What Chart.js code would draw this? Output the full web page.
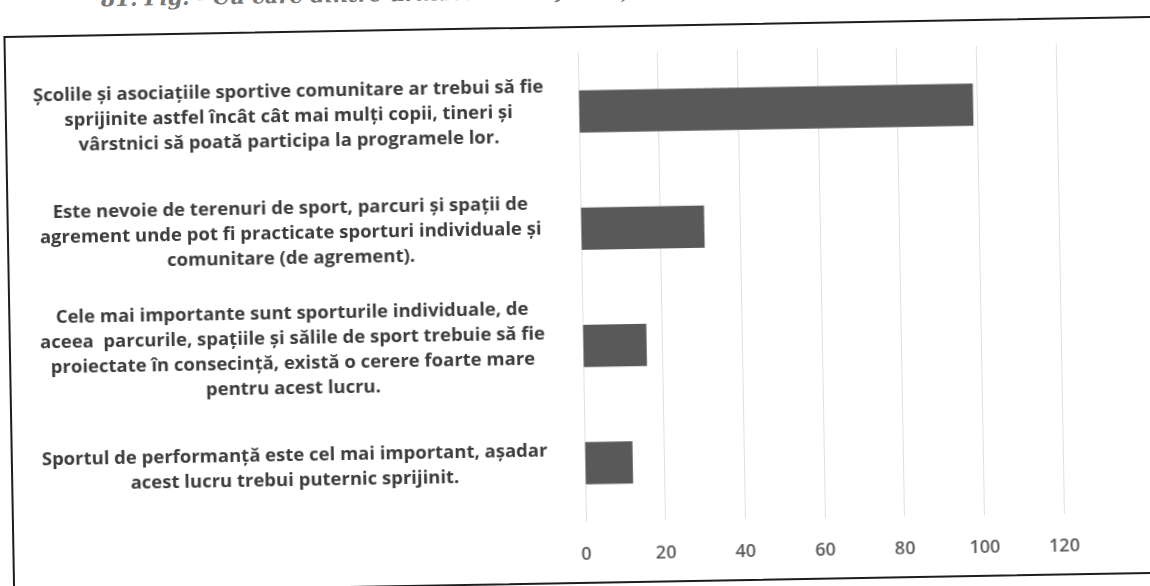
<!DOCTYPE html>
<html>
<head>
<meta charset="utf-8">
<script src="https://cdn.jsdelivr.net/npm/chart.js@4"></script>
<style>
  html, body { margin: 0; padding: 0; background: #fff; overflow: hidden; }
  #page { position: relative; width: 1150px; height: 586px; transform: rotate(-1deg); transform-origin: 575px 293px; }
  #title { position: absolute; left: 106px; top: -22px; font-family: "DejaVu Serif", serif; font-style: italic; font-weight: bold; font-size: 21px; color: #777; white-space: nowrap; }
  #box { position: absolute; left: 8px; top: 26px; width: 1180px; height: 554px; border: 2px solid #1e1e1e; background: #fff; }
  #wrap { position: absolute; left: 0px; top: 0px; width: 1140px; height: 554px; }
</style>
</head>
<body>
<div id="page">
  <div id="title">81. Fig. - Cu care dintre următoarele afirmații sunteți de acord?</div>
  <div id="box"><div id="wrap"><canvas id="c"></canvas></div></div>
</div>
<script>
const categories = [
  ["Școlile și asociațiile sportive comunitare ar trebui să fie", "sprijinite astfel încât cât mai mulți copii, tineri și", "vârstnici să poată participa la programele lor."],
  ["Este nevoie de terenuri de sport, parcuri și spații de", "agrement unde pot fi practicate sporturi individuale și", "comunitare (de agrement)."],
  ["Cele mai importante sunt sporturile individuale, de", "aceea  parcurile, spațiile și sălile de sport trebuie să fie", "proiectate în consecință, există o cerere foarte mare", "pentru acest lucru."],
  ["Sportul de performanță este cel mai important, așadar", "acest lucru trebui puternic sprijinit."]
];
const values = [99, 31, 16, 12];
const xMin = 0, xMax = 120, xStep = 20;

new Chart(document.getElementById('c'), {
  type: 'bar',
  data: {
    labels: categories,
    datasets: [{ data: values, backgroundColor: '#595959', borderWidth: 0, categoryPercentage: 1, barPercentage: 0.36 }]
  },
  options: {
    indexAxis: 'y',
    responsive: true,
    maintainAspectRatio: false,
    animation: false,
    layout: { padding: { top: 25, right: 90, bottom: 0, left: 0 } },
    plugins: { legend: { display: false }, tooltip: { enabled: false } },
    scales: {
      x: {
        min: xMin, max: xMax,
        ticks: { stepSize: xStep, color: '#5a5a5a', padding: 22, font: { family: 'Open Sans', size: 18, weight: '600' } },
        grid: { color: '#e0e0e0', lineWidth: 1, drawTicks: false },
        border: { display: false },
        afterFit: (s) => { s.height = 60; s.paddingLeft = 0; s.paddingRight = 0; }
      },
      y: {
        ticks: { color: '#3c3c3c', crossAlign: 'center', padding: 27, autoSkip: false, font: { family: 'Open Sans', size: 18.5, weight: 'bold', lineHeight: 1.35 } },
        grid: { display: false },
        border: { display: false },
        afterFit: (s) => { s.width = 572; s.paddingTop = 0; s.paddingBottom = 0; }
      }
    }
  }
});
</script>
</body>
</html>
